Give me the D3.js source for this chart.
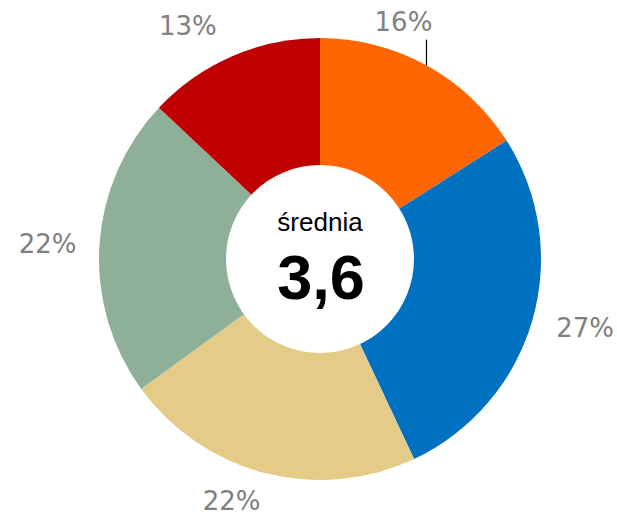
<!DOCTYPE html>
<html>
<head>
<meta charset="utf-8">
<script src="https://cdn.jsdelivr.net/npm/d3@7"></script>
<style>
  body { margin: 0; background: #fff; }
</style>
</head>
<body>
<div id="chart"></div>
<script>
const WIDTH   = 617;
const HEIGHT  = 515;
const CX      = 320;
const CY      = 259;
const OUTER   = 221;
const INNER   = 94;
const GAP     = 25;

// data, clockwise from 12 o'clock
var categories = ["A", "B", "C", "D", "E"];
var values     = [16, 27, 22, 22, 13];
var labels     = ["16%", "27%", "22%", "22%", "13%"];
var colors     = ["#FF6600", "#0070C0", "#E4CB87", "#8FB098", "#C00000"];
var centerTitle = "średnia";
var centerValue = "3,6";

// small hand tweaks so labels sit where the original put them
var labelNudge = [[-49, -13], [1, -3], [-20, -6], [2, 1], [-23, 2]];

var svg = d3.select("#chart")
            .append("svg")
            .attr("width", WIDTH)
            .attr("height", HEIGHT);

var g = svg.append("g")
           .attr("transform", "translate(" + CX + "," + CY + ")");

var pie = d3.pie()
            .sort(null)
            .value(function(d) { return d; });

var arcs = pie(values);

var arc = d3.arc()
            .innerRadius(0)
            .outerRadius(OUTER);

var colorScale = d3.scaleOrdinal()
                   .domain(categories)
                   .range(colors);

g.selectAll("path.slice")
 .data(arcs)
 .enter()
 .append("path")
 .attr("class", "slice")
 .attr("d", arc)
 .attr("fill", function(d, i) { return colorScale(categories[i]); });

// white hole in the middle
g.append("circle")
 .attr("r", INNER)
 .attr("fill", "#fff");

function midAngle(d) { return (d.startAngle + d.endAngle) / 2; }

var LW = 58, LH = 20;
function labelPos(d, i) {
    var a = midAngle(d);
    var s = Math.sin(a), c = Math.cos(a);
    var x = (OUTER + GAP) * s + s * LW / 2 + labelNudge[i][0];
    var y = -(OUTER + GAP) * c - c * LH / 2 + labelNudge[i][1];
    return [x, y];
}

// leader line for the first slice (its label was pulled away)
var first = arcs[0];
var fa = midAngle(first);
var fx = OUTER * Math.sin(fa), fy = -OUTER * Math.cos(fa);
g.append("line")
 .attr("x1", fx).attr("y1", fy)
 .attr("x2", fx).attr("y2", labelPos(first, 0)[1] + 18)
 .attr("stroke", "#000")
 .attr("stroke-width", 1.2);

g.selectAll("text.pct")
 .data(arcs)
 .enter()
 .append("text")
 .attr("class", "pct")
 .attr("x", function(d, i) { return labelPos(d, i)[0]; })
 .attr("y", function(d, i) { return labelPos(d, i)[1]; })
 .attr("dy", "0.36em")
 .attr("text-anchor", "middle")
 .attr("font-family", "DejaVu Sans, Verdana, sans-serif")
 .attr("font-size", "26px")
 .attr("fill", "#808080")
 .text(function(d, i) { return labels[i]; });

g.append("text")
 .attr("x", 0)
 .attr("y", -28)
 .attr("text-anchor", "middle")
 .attr("font-family", "Liberation Sans, Arial, sans-serif")
 .attr("font-size", "26px")
 .attr("fill", "#000")
 .text(centerTitle);

g.append("text")
 .attr("x", 1)
 .attr("y", 40)
 .attr("text-anchor", "middle")
 .attr("font-family", "Liberation Sans, Arial, sans-serif")
 .attr("font-weight", "bold")
 .attr("font-size", "63px")
 .attr("fill", "#000")
 .text(centerValue);
</script>
</body>
</html>
